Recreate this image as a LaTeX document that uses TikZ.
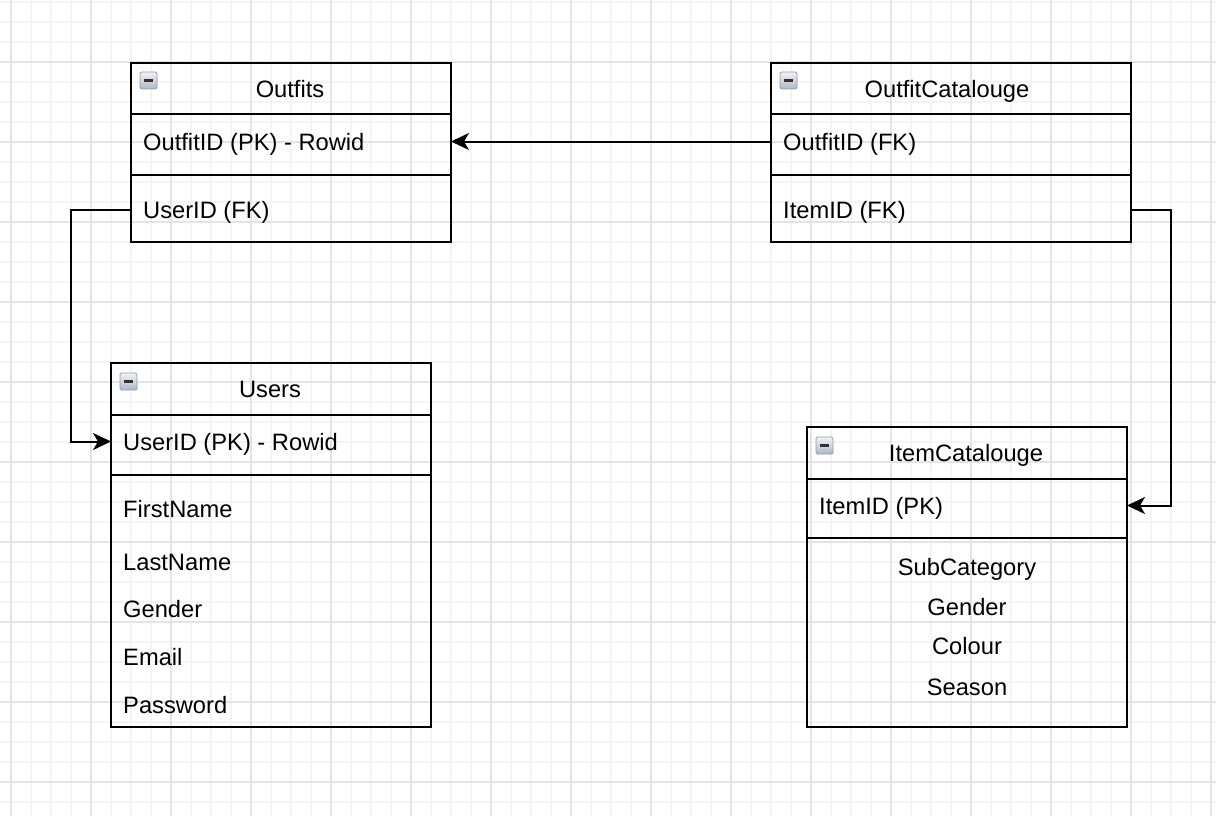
\documentclass[tikz,border=0pt]{standalone}
\usepackage{fontspec}
\setmainfont{Liberation Sans}
\usetikzlibrary{arrows.meta}
\definecolor{gridmajor}{HTML}{E4E4E4}
\definecolor{gridminor}{HTML}{F4F4F4}
\definecolor{icontop}{HTML}{F0F3F6}
\definecolor{iconbot}{HTML}{ADB9C6}
\definecolor{iconedge}{HTML}{8E9CAA}
\definecolor{iconbar}{HTML}{333333}
\newcommand\tblicon[2]{%
  \shade[top color=icontop,bottom color=iconbot,draw=iconedge,line width=0.8pt,rounded corners=1.5pt]
    (#1,#2) rectangle ++(17,17);
  \draw[iconbar,line width=2.8pt] (#1+4,#2+8.5) -- (#1+13,#2+8.5);}
\begin{document}
\begin{tikzpicture}[x=1pt,y=-1pt,
  minorline/.style={gridminor,line width=1.5pt},
  majorline/.style={gridmajor,line width=1.5pt},
  tbl/.style={draw=black,line width=2pt,outer sep=0pt,inner sep=0pt,anchor=north west},
  divider/.style={draw=black,line width=2pt},
  txt/.style={font=\fontsize{23.7pt}{28pt}\selectfont,inner sep=0pt,text height=17pt,text depth=0pt},
  rowtxt/.style={txt,anchor=west},
  ctrtxt/.style={txt,anchor=center},
  conn/.style={draw=black,line width=2pt,-{Stealth[length=18pt,width=17pt,inset=5pt]}}]
\useasboundingbox (0,0) rectangle (1216,816);
\fill[white] (0,0) rectangle (1216,816);
% grid
\foreach \x in {11,31,...,1211} \draw[minorline] (\x,0) -- (\x,816);
\foreach \y in {2,22,...,802} \draw[minorline] (0,\y) -- (1216,\y);
\foreach \x in {11,91,...,1211} \draw[majorline] (\x,0) -- (\x,816);
\foreach \y in {62,142,...,782} \draw[majorline] (0,\y) -- (1216,\y);

% ---- Outfits
\node[tbl,minimum width=320pt,minimum height=179pt] (outfits) at (131,63) {};
\draw[divider] (outfits.west |- 0,114) -- (outfits.east |- 0,114);
\draw[divider] (outfits.west |- 0,175) -- (outfits.east |- 0,175);
\tblicon{140}{72}
\node[ctrtxt] (outfitsT) at (290,88.8) {Outfits};
\node[rowtxt] (outpk) at (143,141.5) {OutfitID (PK) - Rowid};
\node[rowtxt] (outfk) at (143,209.5) {UserID (FK)};

% ---- OutfitCatalouge
\node[tbl,minimum width=360pt,minimum height=179pt] (oc) at (771,63) {};
\draw[divider] (oc.west |- 0,114) -- (oc.east |- 0,114);
\draw[divider] (oc.west |- 0,175) -- (oc.east |- 0,175);
\tblicon{780}{72}
\node[ctrtxt] (ocT) at (947,88.8) {OutfitCatalouge};
\node[rowtxt] (ocfk1) at (783,141.5) {OutfitID (FK)};
\node[rowtxt] (ocfk2) at (783,209.5) {ItemID (FK)};

% ---- Users
\node[tbl,minimum width=320pt,minimum height=364pt] (users) at (111,363) {};
\draw[divider] (users.west |- 0,415) -- (users.east |- 0,415);
\draw[divider] (users.west |- 0,475) -- (users.east |- 0,475);
\tblicon{120}{373}
\node[ctrtxt] (usersT) at (270,389) {Users};
\node[rowtxt] (usrpk) at (123,441.5) {UserID (PK) - Rowid};
\node[rowtxt] (usr1) at (123,509) {FirstName};
\node[rowtxt] (usr2) at (123,561.5) {LastName};
\node[rowtxt] (usr3) at (123,609) {Gender};
\node[rowtxt] (usr4) at (123,656.5) {Email};
\node[rowtxt] (usr5) at (123,705) {Password};

% ---- ItemCatalouge
\node[tbl,minimum width=320pt,minimum height=300pt] (item) at (807,427) {};
\draw[divider] (item.west |- 0,479) -- (item.east |- 0,479);
\draw[divider] (item.west |- 0,538) -- (item.east |- 0,538);
\tblicon{816}{437}
\node[ctrtxt] (itemT) at (966,453) {ItemCatalouge};
\node[rowtxt] (itmpk) at (819,505.5) {ItemID (PK)};
\node[ctrtxt] (itm1) at (967,566.5) {SubCategory};
\node[ctrtxt] (itm2) at (967,606.5) {Gender};
\node[ctrtxt] (itm3) at (967,646) {Colour};
\node[ctrtxt] (itm4) at (967,686.5) {Season};

% ---- connectors
\draw[conn] (oc.west |- ocfk1) -- (outfits.east |- outpk);
\draw[conn] (outfits.west |- outfk) -- ++(-60,0) |- (users.west |- usrpk);
\draw[conn] (oc.east |- ocfk2) -- ++(40,0) |- (item.east |- itmpk);
\end{tikzpicture}
\end{document}
